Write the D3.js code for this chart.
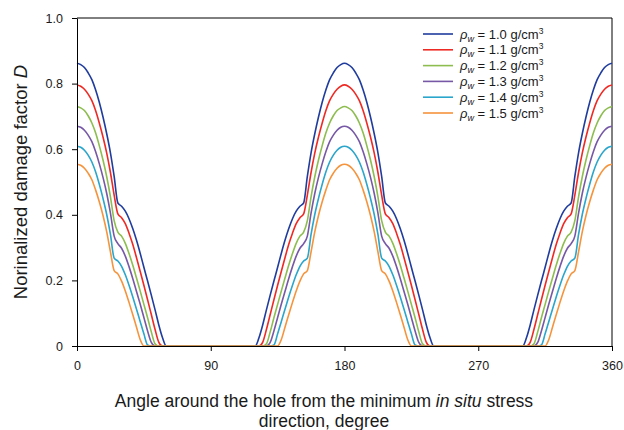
<!DOCTYPE html>
<html>
<head>
<meta charset="utf-8">
<script src="https://cdn.jsdelivr.net/npm/d3@7"></script>
<style>
  body { margin: 0; background: #fff; }
  svg text { font-family: "Liberation Sans", Arial, sans-serif; fill: #1a1a1a; }
</style>
</head>
<body>
<svg id="chart" width="624" height="430"></svg>
<script>
// Damage factor over the first 62.5° around the hole (beyond that it is zero
// up to 90°). The profile is mirror-symmetric about 90° and repeats every 180°.
const angles = [0, 2.5, 5, 7.5, 10, 12.5, 15, 17.5, 20, 22.5, 25, 27.5,
                30, 32.5, 35, 37.5, 40, 42.5, 45, 47.5, 50, 52.5, 55, 57.5, 60, 62.5];

const densities = ["1.0", "1.1", "1.2", "1.3", "1.4", "1.5"];

const dRho10 = [0.862, 0.858, 0.849, 0.833, 0.812, 0.781, 0.743, 0.698, 0.647, 0.589, 0.517, 0.436,
                0.426, 0.411, 0.388, 0.358, 0.323, 0.283, 0.240, 0.198, 0.155, 0.111, 0.065, 0.026, 0, 0];
const dRho11 = [0.796, 0.792, 0.783, 0.768, 0.748, 0.718, 0.680, 0.637, 0.588, 0.529, 0.460, 0.403,
                0.391, 0.373, 0.344, 0.310, 0.270, 0.228, 0.185, 0.141, 0.096, 0.051, 0.012, 0, 0, 0];
const dRho12 = [0.730, 0.726, 0.718, 0.702, 0.680, 0.650, 0.611, 0.567, 0.516, 0.455, 0.382, 0.347,
                0.335, 0.313, 0.282, 0.247, 0.208, 0.168, 0.127, 0.086, 0.043, 0.007, 0, 0, 0, 0];
const dRho13 = [0.670, 0.667, 0.658, 0.643, 0.623, 0.593, 0.556, 0.514, 0.465, 0.405, 0.335, 0.312,
                0.298, 0.274, 0.242, 0.206, 0.167, 0.128, 0.087, 0.046, 0.011, 0, 0, 0, 0, 0];
const dRho14 = [0.609, 0.606, 0.597, 0.582, 0.561, 0.531, 0.493, 0.450, 0.401, 0.340, 0.268, 0.259,
                0.243, 0.217, 0.185, 0.150, 0.113, 0.075, 0.037, 0.003, 0, 0, 0, 0, 0, 0];
const dRho15 = [0.554, 0.551, 0.542, 0.527, 0.507, 0.476, 0.440, 0.398, 0.348, 0.287, 0.230, 0.220,
                0.198, 0.168, 0.133, 0.096, 0.058, 0.020, 0, 0, 0, 0, 0, 0, 0, 0];

const seriesValues = [dRho10, dRho11, dRho12, dRho13, dRho14, dRho15];
const seriesColors = ["#1f3c9e", "#ee2a24", "#8dbd4f", "#7658a6", "#2aa5cb", "#f5943c"];

const xTicks = [0, 90, 180, 270, 360];
const yTicks = [0, 0.2, 0.4, 0.6, 0.8, 1.0];
const yTickLabels = ["0", "0.2", "0.4", "0.6", "0.8", "1.0"];

const svg = d3.select("#chart");
const margin = { left: 77, right: 12, top: 18, bottom: 84 };
const W = 624, H = 430;

const x = d3.scaleLinear().domain([0, 360]).range([margin.left, W - margin.right]);
const y = d3.scaleLinear().domain([0, 1]).range([H - margin.bottom, margin.top]);

// Unfold the quarter profile over the whole circumference.
function fullProfile(vals) {
  const m = new Map();
  angles.forEach((a, i) => {
    [a, 180 - a, 180 + a, 360 - a].forEach(t => m.set(t, vals[i]));
  });
  return Array.from(m.entries()).sort((p, q) => p[0] - q[0]);
}

const line = d3.line()
  .x(d => x(d[0]))
  .y(d => y(d[1]))
  .curve(d3.curveMonotoneX);

// Frame (top and right edges)
svg.append("path")
  .attr("d", `M${x(0)},${y(1)}H${x(360)}V${y(0)}`)
  .attr("fill", "none").attr("stroke", "#000").attr("stroke-width", 1);

// Curves
const curves = svg.append("g");
seriesValues.forEach((vals, i) => {
  curves.append("path")
    .datum(fullProfile(vals))
    .attr("d", line)
    .attr("fill", "none")
    .attr("stroke", seriesColors[i])
    .attr("stroke-width", 1.6);
});

// Axes
const xAxis = d3.axisBottom(x).tickValues(xTicks).tickSize(5).tickSizeOuter(0).tickPadding(10)
  .tickFormat(d3.format("d"));
const yAxis = d3.axisLeft(y).tickValues(yTicks).tickSize(5).tickSizeOuter(0).tickPadding(9)
  .tickFormat((d, i) => yTickLabels[i]);

const gx = svg.append("g").attr("transform", `translate(0,${y(0)})`).call(xAxis);
const gy = svg.append("g").attr("transform", `translate(${x(0)},0)`).call(yAxis);
[gx, gy].forEach(g => {
  g.attr("font-family", null);
  g.selectAll("text").attr("font-size", 12.5);
  g.selectAll("line, path").attr("stroke", "#000");
});

// Axis titles
const yt = svg.append("text")
  .attr("transform", `translate(27,${(y(0) + y(1)) / 2}) rotate(-90)`)
  .attr("text-anchor", "middle")
  .attr("font-size", 18.5);
yt.append("tspan").text("Norinalized damage factor ");
yt.append("tspan").attr("font-style", "italic").text("D");

const xt = svg.append("text")
  .attr("x", 324).attr("y", 407)
  .attr("text-anchor", "middle")
  .attr("font-size", 17.5);
xt.append("tspan").text("Angle around the hole from the minimum ");
xt.append("tspan").attr("font-style", "italic").text("in situ");
xt.append("tspan").text(" stress");
svg.append("text")
  .attr("x", 324).attr("y", 427)
  .attr("text-anchor", "middle")
  .attr("font-size", 17.5)
  .text("direction, degree");

// Legend
const legend = svg.append("g");
densities.forEach((rho, i) => {
  const ly = 34 + i * 15.8;
  legend.append("line")
    .attr("x1", 423).attr("x2", 453).attr("y1", ly).attr("y2", ly)
    .attr("stroke", seriesColors[i]).attr("stroke-width", 1.6);
  const t = legend.append("text").attr("x", 460).attr("y", ly + 4.5).attr("font-size", 13);
  t.append("tspan").attr("font-style", "italic").text("ρ");
  t.append("tspan").attr("font-style", "italic").attr("font-size", 9).attr("dy", 3).text("w");
  t.append("tspan").attr("dy", -3).text(` = ${rho} g/cm`);
  t.append("tspan").attr("font-size", 8.5).attr("dy", -5).text("3");
});
</script>
</body>
</html>
